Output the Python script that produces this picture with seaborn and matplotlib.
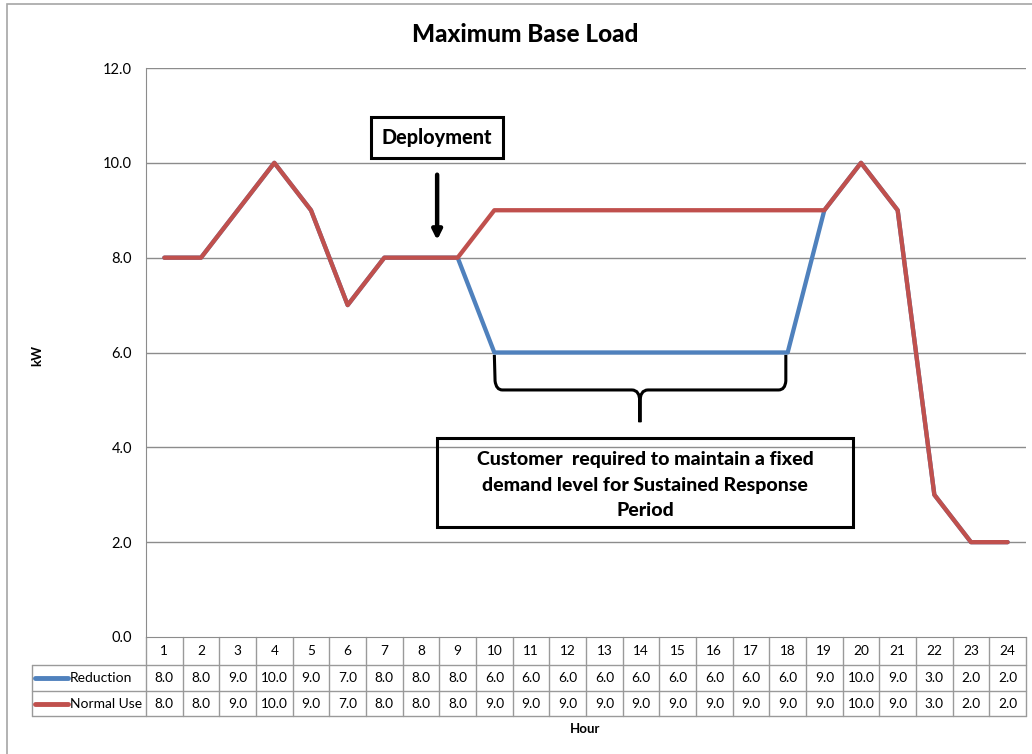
import numpy as np
import pandas as pd
import seaborn as sns
import matplotlib.pyplot as plt
from matplotlib.patches import Rectangle, PathPatch
from matplotlib.path import Path
from matplotlib.transforms import blended_transform_factory

# données
heures = list(range(1, 25))
reduction = [8, 8, 9, 10, 9, 7, 8, 8, 8, 6, 6, 6, 6, 6, 6, 6, 6, 6, 9, 10, 9, 3, 2, 2]
usage_normal = [8, 8, 9, 10, 9, 7, 8, 8, 8, 9, 9, 9, 9, 9, 9, 9, 9, 9, 9, 10, 9, 3, 2, 2]
series = ['Reduction', 'Normal Use']
couleurs = {'Reduction': '#4F81BD', 'Normal Use': '#C0504D'}
graduations_y = [0, 2, 4, 6, 8, 10, 12]

donnees = pd.DataFrame({
    'Hour': heures * 2,
    'kW': reduction + usage_normal,
    'Serie': ['Reduction'] * 24 + ['Normal Use'] * 24,
})

sns.set_style('white')
plt.rcParams['font.family'] = ['Lato', 'DejaVu Sans']
plt.rcParams['text.color'] = 'black'

W, H = 1032, 754
fig = plt.figure(figsize=(W / 100, H / 100), dpi=100)


def fx(x):
    return x / W


def fy(y):
    return 1 - y / H


# zone de tracé (en pixels de la référence)
gauche, droite, haut, bas = 146, 1026, 68, 637
ax = fig.add_axes([fx(gauche), fy(bas), fx(droite - gauche), (bas - haut) / H])

sns.lineplot(data=donnees, x='Hour', y='kW', hue='Serie', hue_order=series,
             palette=couleurs, lw=3.1, legend=False, ax=ax)

ax.set_xlim(0.5, 24.5)
ax.set_ylim(0, 12)
ax.set_yticks(graduations_y)
ax.set_yticklabels([f'{v:.1f}' for v in graduations_y], fontsize=10.5, color='black')
ax.set_xticks([])
ax.set_xlabel('')
ax.set_ylabel('')
ax.tick_params(axis='y', length=0, pad=10)
for v in graduations_y[1:]:
    ax.axhline(v, color='#8c8c8c', lw=1, zorder=0)
for s in ['top', 'right']:
    ax.spines[s].set_visible(False)
ax.spines['left'].set_color('#8c8c8c')
ax.spines['bottom'].set_color('#8c8c8c')

# tableau de données sous le graphique
trans = blended_transform_factory(ax.transData, fig.transFigure)
pas = (droite - gauche) / 24
x_leg = 0.5 + (32 - gauche) / pas
lignes_y = [637, 665, 691, 716]
gris = '#9a9a9a'
for k in range(25):
    ax.plot([0.5 + k, 0.5 + k], [fy(lignes_y[0]), fy(lignes_y[-1])], color=gris,
            lw=1, transform=trans, clip_on=False)
for y in lignes_y[1:]:
    ax.plot([x_leg, 24.5], [fy(y), fy(y)], color=gris, lw=1, transform=trans, clip_on=False)
ax.plot([x_leg, x_leg], [fy(lignes_y[1]), fy(lignes_y[-1])], color=gris, lw=1,
        transform=trans, clip_on=False)

for i, h in enumerate(heures):
    ax.text(h, fy(651), str(h), ha='center', va='center', fontsize=9.8, transform=trans)
    ax.text(h, fy(678), f'{reduction[i]:.1f}', ha='center', va='center', fontsize=9.8,
            transform=trans)
    ax.text(h, fy(703.5), f'{usage_normal[i]:.1f}', ha='center', va='center', fontsize=9.8,
            transform=trans)

for nom, y in zip(series, [678, 703.5]):
    x0 = 0.5 + (35 - gauche) / pas
    x1 = 0.5 + (68 - gauche) / pas
    ax.plot([x0, x1], [fy(y), fy(y)], color=couleurs[nom], lw=3.5,
            solid_capstyle='round', transform=trans, clip_on=False)
    ax.text(x1 + 0.05, fy(y), nom, ha='left', va='center', fontsize=10, transform=trans)

# titres
fig.text(fx(525), fy(34), 'Maximum Base Load', ha='center', va='center',
         fontsize=17.5, fontweight='black')
fig.text(fx(37), fy(355), 'kW', ha='center', va='center', rotation=90,
         fontsize=9.5, fontweight='bold')
fig.text(fx(585), fy(729), 'Hour', ha='center', va='center', fontsize=9.5, fontweight='bold')

# cadre extérieur
fig.add_artist(Rectangle((fx(7), fy(800)), fx(1100), 796 / H,
                         transform=fig.transFigure, fill=False, ec='#a6a6a6', lw=1.2))

# annotations
fig.add_artist(Rectangle((fx(371), fy(158)), fx(503 - 371), (158 - 117) / H,
                         transform=fig.transFigure, fill=False, ec='black', lw=2.2))
fig.text(fx(437), fy(137.5), 'Deployment', ha='center', va='center',
         fontsize=14.3, fontweight='black')
ax.annotate('', xy=(8.44, 8.37), xytext=(8.44, 9.75),
            arrowprops=dict(arrowstyle='-|>', lw=3.2, color='black', mutation_scale=14,
                            shrinkA=0, shrinkB=0))

fig.add_artist(Rectangle((fx(437), fy(527)), fx(853 - 437), (527 - 438) / H,
                         transform=fig.transFigure, fill=False, ec='black', lw=2.2))
for texte, y in zip(['Customer  required to maintain a fixed',
                     'demand level for Sustained Response', 'Period'], [459, 485, 510]):
    fig.text(fx(645), fy(y), texte, ha='center', va='center', fontsize=14,
             fontweight='black')

# accolade
pts = [(10.0, 5.95), (10.02, 5.40), (10.05, 5.21), (10.22, 5.21), (13.75, 5.21),
       (13.97, 5.21), (13.97, 4.95), (13.97, 4.53), (13.97, 4.95), (13.97, 5.21),
       (14.19, 5.21), (17.75, 5.21), (17.93, 5.21), (17.95, 5.40), (17.95, 5.95)]
codes = [Path.MOVETO, Path.LINETO, Path.CURVE3, Path.CURVE3, Path.LINETO,
         Path.CURVE3, Path.CURVE3, Path.LINETO, Path.LINETO, Path.CURVE3,
         Path.CURVE3, Path.LINETO, Path.CURVE3, Path.CURVE3, Path.LINETO]
ax.add_patch(PathPatch(Path(pts, codes), fill=False, ec='black', lw=2.2, clip_on=False))

fig.savefig('out.png', dpi=100)
